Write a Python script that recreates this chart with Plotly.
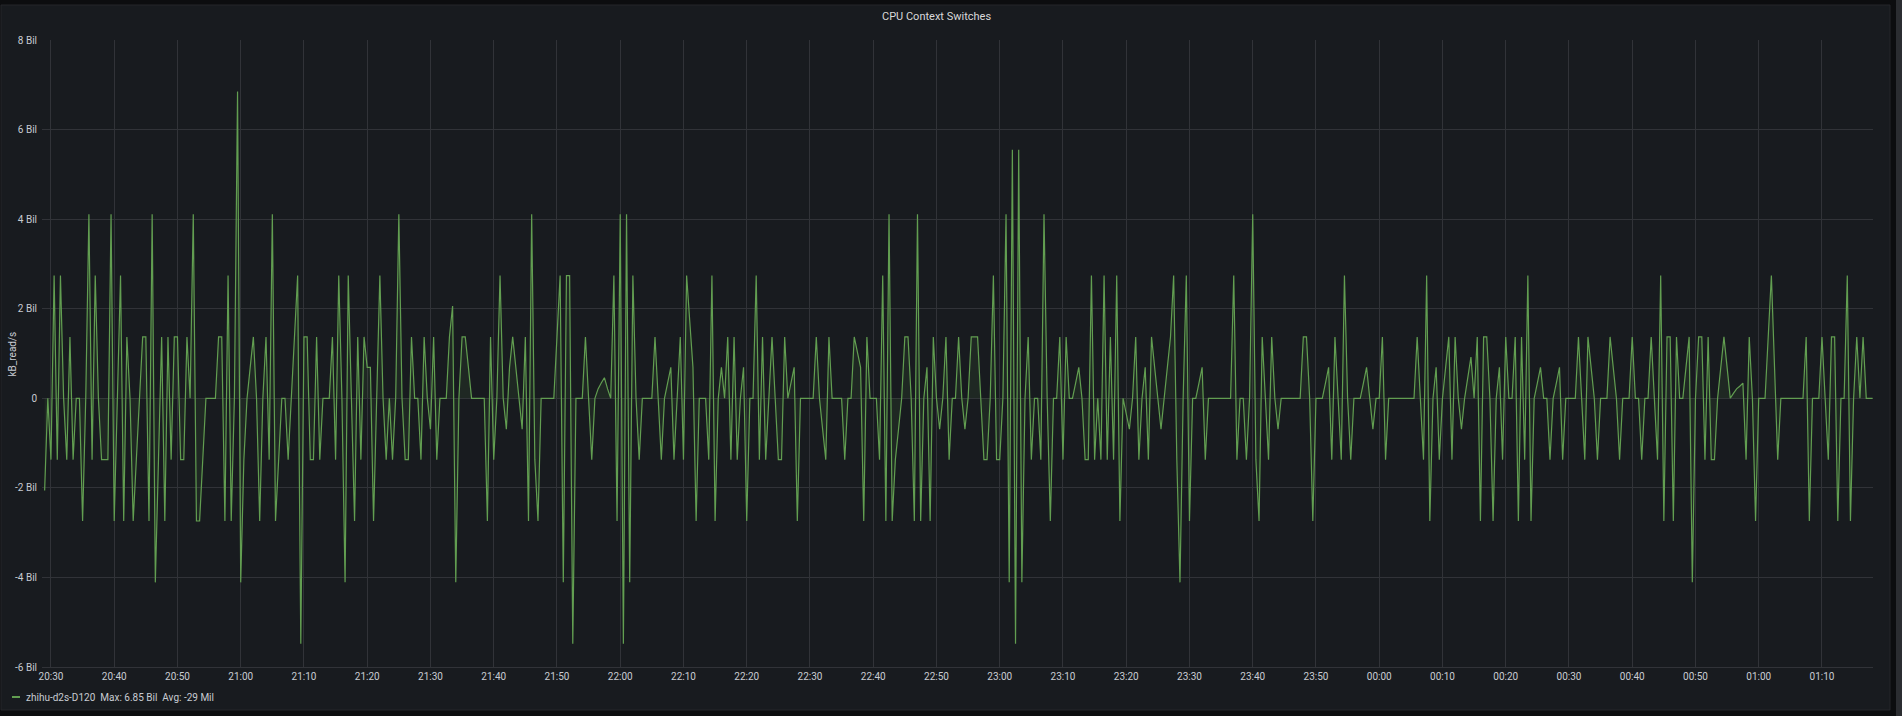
import pandas as pd
import plotly.graph_objects as go

# ---- data -------------------------------------------------------------
series_name = "zhihu-d2s-D120"
sample_start = "2024-01-01 20:29:00"
sample_interval = "30s"

# CPU context switches, in billions, one value per 30 s sample
switches_bil = [
    -2.06, 0, -1.37, 2.74, -1.37, 2.74, 0, -1.37, 1.37, -1.37, 0, 0, -2.74, 0, 4.11, -1.37, 2.74, 0, -1.37, -1.37,
    -1.37, 4.11, -2.74, 0, 2.74, -2.74, 1.37, 0, -2.74, -1.37, 0, 1.37, 1.37, -2.74, 4.11, -4.11, -1.37, 1.37, -2.74, 1.37,
    -1.37, 1.37, 1.37, -1.37, -1.37, 1.37, 0, 4.11, -2.74, -2.74, -1.37, 0, 0, 0, 0, 1.37, 1.37, -2.74, 2.74, -2.74,
    0, 6.85, -4.11, -1.37, 0, 0.69, 1.37, 0, -2.74, 0, 1.37, -1.37, 4.11, -2.74, -1.37, 0, 0, -1.37, 0, 1.37,
    2.74, -5.48, 1.37, 1.37, -1.37, -1.37, 1.37, -1.37, 0, 0, 0, 1.37, -1.37, 2.74, 0, -4.11, 2.74, 0, -2.74, 1.37,
    -1.37, 1.37, 0.69, 0.69, -2.74, 0, 2.74, 0, -1.37, 0, -1.37, 0, 4.11, 0, -1.37, -1.37, 1.37, 0, 0, -1.37,
    1.37, 0, -0.69, 1.37, -1.37, 0, 0, 0, 1.37, 2.06, -4.11, 0, 1.37, 1.37, 0.69, 0, 0, 0, 0, 0,
    -2.74, 1.37, -1.37, 0, 2.74, 0, -0.69, 0.69, 1.37, 0.69, 0, -0.69, 1.37, -2.74, 4.11, -1.37, -2.74, 0, 0, 0,
    0, 0, 1.37, 2.74, -4.11, 2.74, 2.74, -5.48, 0, 0, 0, 1.37, 0, -1.37, 0, 0.21, 0.34, 0.46, 0.21, 0,
    2.74, -2.74, 4.11, -5.48, 4.11, -4.11, 2.74, 0, -1.37, 0, 0, 0, 0, 1.37, 0, -1.37, 0, 0.34, 0.69, -1.37,
    0, 1.37, -1.37, 2.74, 1.71, 0.69, -2.74, 0, 0, 0, -1.37, 2.74, -2.74, 0, 0.69, 0, 1.37, -1.37, 1.37, -1.37,
    0, 0.69, -2.74, 0, 0, 2.74, -1.37, 1.37, -1.37, 0, 1.37, 0, -1.37, -1.37, 1.37, 0, 0.34, 0.69, -2.74, 0,
    0, 0, 0, 0, 1.37, 0, -0.69, -1.37, 1.37, 0, 0, 0, 0, -1.37, 0, 0, 1.37, 1.03, 0.69, -2.74,
    1.37, 0, 0, 0, -1.37, 2.74, -2.74, 4.11, -2.74, -1.37, -0.69, 0, 1.37, 1.37, 0, -2.74, 4.11, -2.74, 0, 0.69,
    -2.74, 1.37, 0, -0.69, 0, 1.37, -1.37, 0, 0, 1.37, 0, -0.69, 0, 1.37, 1.37, 1.37, 0, -1.37, -1.37, 0,
    2.74, -1.37, -1.37, 0, 4.11, -4.11, 5.55, -5.48, 5.55, -4.11, 0, 1.37, -1.37, 0, 0, -1.37, 4.11, 0, -2.74, 0,
    0, 1.37, -1.37, 1.37, 0, 0, 0.34, 0.69, 0, -1.37, -1.37, 2.74, -1.37, 0, -1.37, 2.74, -1.37, 1.37, -1.37, 2.74,
    -2.74, 0, -0.34, -0.69, 0, 1.37, -1.37, 0, 0.69, -1.37, 1.37, 0.69, 0, -0.69, 0, 0.69, 1.37, 2.74, -1.37, -4.11,
    0, 2.74, -2.74, 0, 0, 0.34, 0.69, -1.37, 0, 0, 0, 0, 0, 0, 0, 0, 2.74, -1.37, 0, 0,
    -1.37, 0, 4.11, -1.37, -2.74, 1.37, 0, -1.37, 1.37, 0, -0.69, 0, 0, 0, 0, 0, 0, 0, 1.37, 1.37,
    0, -2.74, 0, 0, 0, 0.34, 0.69, -1.37, 1.37, 0, -1.37, 2.74, 0, -1.37, 0, 0, 0, 0.34, 0.69, 0,
    -0.69, 0, 0, 1.37, -1.37, 0, 0, 0, 0, 0, 0, 0, 0, 0, 1.37, 0, -1.37, 2.74, -2.74, 0,
    0.69, -1.37, 0, 0.69, 1.37, -1.37, 1.37, 0, -0.69, 0, 0.46, 0.92, 0, 1.37, -2.74, 1.37, 1.37, 0, -2.74, 0,
    0.69, -1.37, 1.37, 0, 0, 1.37, -2.74, 1.37, -1.37, 2.74, -2.74, 0, 0.34, 0.69, 0, 0, -1.37, 0, 0.34, 0.69,
    -1.37, 0, 0, 0, 0, 1.37, 0, -1.37, 1.37, 0.69, 0, -1.37, 0, 0, 0, 1.37, 0.69, 0, -1.37, 0,
    0, 0, 1.37, 0, 0, -1.37, 0, 0, 1.37, 0, -1.37, 2.74, -2.74, 1.37, 1.37, -2.74, 1.37, 0, 0, 0.69,
    1.37, -4.11, 0, 1.37, 1.37, -1.37, 1.37, -1.37, -1.37, 0, 0.69, 1.37, 0.69, 0, 0.11, 0.21, 0.27, 0.34, -1.37, 1.37,
    0, -2.74, 0, 0, 0, 1.37, 2.74, 0.69, -1.37, 0, 0, 0, 0, 0, 0, 0, 0, 1.37, -2.74, 0,
    0, 0, 1.37, 0, -1.37, 1.37, 1.37, -2.74, 0, 0, 2.74, -2.74, 0, 1.37, 0, 1.37, 0, 0, 0,
]

y_tick_values = [-6, -4, -2, 0, 2, 4, 6, 8]
y_tick_labels = ["-6 Bil", "-4 Bil", "-2 Bil", "0", "2 Bil", "4 Bil", "6 Bil", "8 Bil"]
x_range = ["2024-01-01 20:28:35", "2024-01-02 01:18:04"]
x_tick_start = "2024-01-01 20:30:00"
panel_title = "CPU Context Switches"
y_axis_title = "kB_read/s"
legend_text = "zhihu-d2s-D120  Max: 6.85 Bil  Avg: -29 Mil"

# ---- figure -------------------------------------------------------------
times = pd.date_range(sample_start, periods=len(switches_bil), freq=sample_interval)

W, H = 1902, 716
L, R, T, B = 42, 1873, 40, 667          # plot area in pixels
LINE = "#629e51"
FONT = "Roboto, Inter, sans-serif"
TXT = "#c8ccd2"
GRID = "#313338"


def px_x(p):
    return (p - L) / (R - L)


def px_y(p):
    return (B - p) / (B - T)


fig = go.Figure()
fig.add_trace(go.Scatter(
    x=times, y=switches_bil, mode="lines",
    line=dict(color=LINE, width=1.2),
    fill="tozeroy", fillcolor="rgba(98,158,81,0.10)",
    name=series_name, showlegend=False, hoverinfo="x+y",
))

shapes = [
    # panel body
    dict(type="rect", xref="paper", yref="paper", layer="below",
         x0=px_x(1), x1=px_x(1890), y0=px_y(710), y1=px_y(5),
         fillcolor="#181b1f", line=dict(color="#24262b", width=1)),
    # scrollbar strip
    dict(type="rect", xref="paper", yref="paper", layer="below",
         x0=px_x(1896), x1=px_x(1902), y0=px_y(716), y1=px_y(0),
         fillcolor="#2b2d31", line=dict(width=0)),
    # legend swatch
    dict(type="line", xref="paper", yref="paper",
         x0=px_x(12), x1=px_x(20), y0=px_y(697), y1=px_y(697),
         line=dict(color=LINE, width=2)),
]

annotations = [
    dict(text=panel_title, xref="paper", yref="paper", x=px_x(936), y=px_y(16),
         xanchor="center", yanchor="middle", showarrow=False,
         font=dict(family=FONT, size=11, color="#d8d9da")),
    dict(text=y_axis_title, xref="paper", yref="paper", x=px_x(12), y=0.5,
         xanchor="center", yanchor="middle", textangle=-90, showarrow=False,
         font=dict(family=FONT, size=10, color=TXT)),
    dict(text=legend_text, xref="paper", yref="paper", x=px_x(24), y=px_y(697),
         xanchor="left", yanchor="middle", showarrow=False,
         font=dict(family=FONT, size=10, color=TXT)),
]

fig.update_layout(
    width=W, height=H,
    margin=dict(l=L, r=W - R, t=T, b=H - B, pad=0),
    paper_bgcolor="#0c0d0f",
    plot_bgcolor="rgba(0,0,0,0)",
    font=dict(family=FONT, size=10, color=TXT),
    shapes=shapes, annotations=annotations,
    showlegend=False,
    xaxis=dict(
        range=x_range, type="date",
        tick0=x_tick_start, dtick=600000, tickformat="%H:%M",
        showgrid=True, gridcolor=GRID, gridwidth=1,
        zeroline=False, showline=True, linecolor=GRID,
        ticks="", tickfont=dict(size=10, color=TXT),
    ),
    yaxis=dict(
        range=[-6, 8], tickvals=y_tick_values, ticktext=y_tick_labels,
        showgrid=True, gridcolor=GRID, gridwidth=1,
        zeroline=False, showline=False,
        ticks="", ticklabelstandoff=4, tickfont=dict(size=10, color=TXT),
    ),
)

fig.write_html("out.html")
